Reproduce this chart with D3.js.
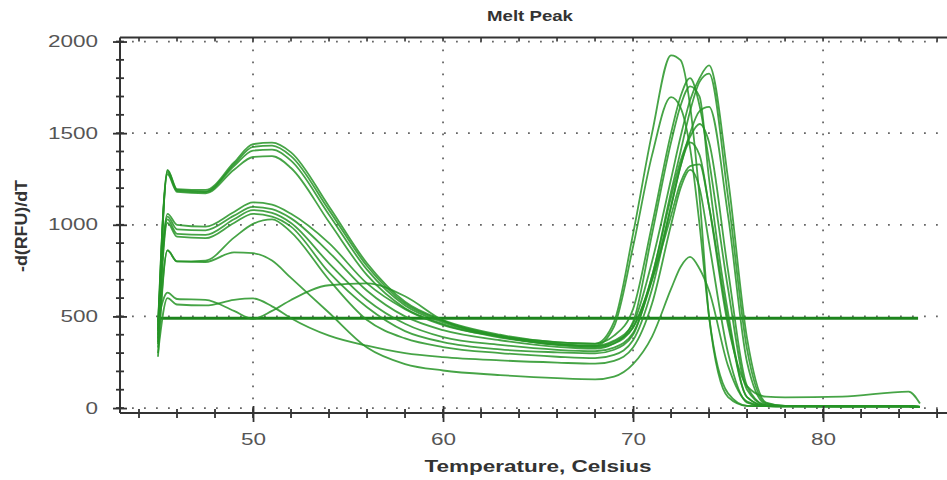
<!DOCTYPE html>
<html>
<head>
<meta charset="utf-8">
<script src="https://cdn.jsdelivr.net/npm/d3@7"></script>
<style>
  body { margin: 0; background: #fff; }
  svg { display: block; font-family: Arial, "Liberation Sans", sans-serif; }
</style>
</head>
<body>
<script>
// Melt peak curves (-d(RFU)/dT against temperature) drawn with D3

const width = 947;
const height = 480;

// temperature grid shared by every well
const temps = [45.0, 45.5, 46.0, 47.5, 49.0, 50.0, 51.0, 52.0, 54.0, 56.0, 58.0, 60.0, 63.0, 66.0, 68.0,
               69.0, 70.0, 71.0, 72.0, 72.5, 73.0, 73.5, 74.0, 75.0, 76.0, 77.0, 78.0, 81.0, 84.5, 85.1];

// one array of values per well
const wellA1 = [420, 1300, 1195, 1190, 1340, 1440, 1448, 1395, 1100, 790, 580, 480, 400, 358, 350,
                470, 950, 1500, 1925, 1898, 1650, 1150, 500, 60, 12, 10, 9, 9, 9, 6];
const wellA2 = [380, 1295, 1190, 1182, 1330, 1425, 1432, 1375, 1080, 775, 570, 475, 395, 352, 340,
                368, 460, 800, 1250, 1480, 1680, 1800, 1870, 1250, 380, 30, 12, 10, 10, 7];
const wellA3 = [350, 1285, 1185, 1178, 1320, 1405, 1410, 1350, 1055, 755, 560, 468, 392, 360, 352,
                395, 540, 1000, 1500, 1700, 1800, 1650, 1350, 650, 100, 15, 10, 9, 9, 6];
const wellA4 = [450, 1275, 1180, 1172, 1300, 1370, 1375, 1310, 1015, 725, 545, 458, 385, 348, 336,
                362, 440, 720, 1180, 1400, 1620, 1780, 1825, 1150, 320, 25, 12, 10, 10, 6];
const wellB1 = [470, 1060, 1000, 990, 1070, 1122, 1110, 1060, 900, 680, 540, 453, 390, 346, 340,
                445, 880, 1380, 1697, 1640, 1420, 1000, 500, 80, 12, 10, 9, 9, 9, 6];
const wellB2 = [430, 1045, 975, 970, 1050, 1098, 1085, 1035, 850, 640, 500, 425, 370, 334, 324,
                352, 470, 950, 1450, 1650, 1755, 1700, 1250, 520, 60, 12, 10, 10, 10, 6];
const wellB3 = [400, 1030, 950, 945, 1030, 1080, 1065, 1010, 790, 590, 460, 387, 345, 318, 310,
                330, 410, 700, 1100, 1320, 1500, 1620, 1643, 1050, 250, 20, 10, 9, 9, 6];
const wellB4 = [360, 1010, 935, 927, 1010, 1060, 1045, 990, 740, 550, 420, 360, 320, 304, 298,
                318, 400, 720, 1150, 1350, 1480, 1550, 1450, 750, 120, 15, 10, 9, 9, 6];
const wellB5 = [330, 860, 800, 805, 930, 1005, 1030, 960, 700, 480, 380, 333, 300, 280, 272,
                290, 370, 650, 1100, 1320, 1450, 1380, 1100, 450, 120, 62, 58, 62, 90, 25];
const wellC1 = [480, 630, 595, 590, 530, 487, 530, 590, 670, 680, 610, 478, 390, 345, 330,
                352, 440, 700, 1050, 1230, 1320, 1330, 1100, 480, 60, 12, 10, 9, 9, 6];
const wellC2 = [300, 600, 565, 560, 590, 598, 555, 490, 395, 340, 300, 278, 260, 248, 242,
                258, 330, 570, 1000, 1200, 1300, 1200, 900, 300, 30, 10, 9, 9, 9, 6];
const wellD1 = [280, 860, 800, 797, 850, 845, 805, 710, 520, 330, 240, 205, 180, 163, 157,
                172, 240, 390, 650, 770, 825, 760, 640, 230, 35, 10, 9, 9, 9, 6];

const wells = [wellA1, wellA2, wellA3, wellA4, wellB1, wellB2, wellB3, wellB4, wellB5, wellC1, wellC2, wellD1];

// flat trace sitting near 500
const flatTemps = [45.1, 85.0];
const flatValues = [490, 490];

const xTicks = [50, 60, 70, 80];
const xMinor = d3.range(44, 87, 2);
const yTicks = [0, 500, 1000, 1500, 2000];
const yMinor = d3.range(0, 2001, 100);

const plot = { left: 120, right: 950, top: 37.5, bottom: 413 };

const x = d3.scaleLinear().domain([43, 86.68]).range([plot.left, plot.right]);
const y = d3.scaleLinear().domain([-27, 2022]).range([plot.bottom, plot.top]);

const svg = d3.select("body").append("svg")
    .attr("width", width)
    .attr("height", height);

svg.append("clipPath").attr("id", "plot-clip")
    .append("rect")
    .attr("x", plot.left).attr("y", plot.top - 2)
    .attr("width", width - plot.left).attr("height", plot.bottom - plot.top + 4);

// dotted grid
const grid = svg.append("g").attr("stroke", "#666").attr("stroke-width", 1.8)
    .attr("stroke-dasharray", "1.8,10.2").attr("stroke-linecap", "butt");
grid.selectAll(".gx").data(xTicks).join("line")
    .attr("x1", d => x(d)).attr("x2", d => x(d))
    .attr("y1", plot.top).attr("y2", plot.bottom);
grid.selectAll(".gy").data(yTicks).join("line")
    .attr("x1", plot.left).attr("x2", width)
    .attr("y1", d => y(d)).attr("y2", d => y(d));

// curves
const line = d3.line()
    .x((d, i) => x(temps[i]))
    .y(d => y(d))
    .curve(d3.curveMonotoneX);

const curves = svg.append("g").attr("clip-path", "url(#plot-clip)");

curves.append("path")
    .datum(flatValues)
    .attr("fill", "none")
    .attr("stroke", "#1c841c")
    .attr("stroke-width", 2.8)
    .attr("d", d3.line().x((d, i) => x(flatTemps[i])).y(d => y(d)));

curves.selectAll(".well").data(wells).join("path")
    .attr("class", "well")
    .attr("fill", "none")
    .attr("stroke", "#269426")
    .attr("stroke-opacity", 0.85)
    .attr("stroke-width", 1.8)
    .attr("stroke-linejoin", "round")
    .attr("d", line);

// axes
const axisColor = "#333";

function styleAxis(g) {
    g.select(".domain").remove();
    g.selectAll("line").attr("stroke", axisColor).attr("stroke-width", 1.8);
    g.selectAll("text")
        .attr("fill", "#555")
        .attr("font-size", 16)
        .attr("textLength", d => String(d).length * 12.5)
        .attr("lengthAdjust", "spacingAndGlyphs");
}

// minor ticks
svg.append("g").selectAll("line").data(yMinor).join("line")
    .attr("x1", plot.left - 4).attr("x2", plot.left + 4)
    .attr("y1", d => y(d)).attr("y2", d => y(d))
    .attr("stroke", axisColor).attr("stroke-width", 1.8);
svg.append("g").selectAll("line").data(xMinor).join("line")
    .attr("x1", d => x(d)).attr("x2", d => x(d))
    .attr("y1", plot.bottom - 4).attr("y2", plot.bottom + 5)
    .attr("stroke", axisColor).attr("stroke-width", 1.8);
svg.append("g").selectAll("line").data(xMinor).join("line")
    .attr("x1", d => x(d)).attr("x2", d => x(d))
    .attr("y1", plot.top).attr("y2", plot.top + 4)
    .attr("stroke", axisColor).attr("stroke-width", 1.6);

const yAxis = svg.append("g")
    .attr("transform", `translate(${plot.left},0)`)
    .call(d3.axisLeft(y).tickValues(yTicks).tickFormat(d3.format("d"))
        .tickSizeInner(7).tickSizeOuter(0).tickPadding(15))
    .call(styleAxis);
yAxis.selectAll(".tick line").attr("x1", 7);

const xAxis = svg.append("g")
    .attr("transform", `translate(0,${plot.bottom})`)
    .call(d3.axisBottom(x).tickValues(xTicks).tickFormat(d3.format("d"))
        .tickSizeInner(9).tickSizeOuter(0).tickPadding(12))
    .call(styleAxis);
xAxis.selectAll(".tick line").attr("y1", -7);

// frame lines
svg.append("line")
    .attr("x1", plot.left).attr("x2", plot.left)
    .attr("y1", plot.top).attr("y2", plot.bottom)
    .attr("stroke", axisColor).attr("stroke-width", 2);
svg.append("line")
    .attr("x1", plot.left).attr("x2", width)
    .attr("y1", plot.bottom).attr("y2", plot.bottom)
    .attr("stroke", axisColor).attr("stroke-width", 2);
svg.append("line")
    .attr("x1", plot.left).attr("x2", width)
    .attr("y1", plot.top).attr("y2", plot.top)
    .attr("stroke", axisColor).attr("stroke-width", 1.8);

// titles
svg.append("text")
    .attr("x", 530).attr("y", 21)
    .attr("text-anchor", "middle")
    .attr("font-size", 14).attr("font-weight", "bold").attr("fill", "#333")
    .attr("textLength", 86).attr("lengthAdjust", "spacingAndGlyphs")
    .text("Melt Peak");

svg.append("text")
    .attr("x", 538).attr("y", 472)
    .attr("text-anchor", "middle")
    .attr("font-size", 16).attr("font-weight", "bold").attr("fill", "#333")
    .attr("textLength", 227).attr("lengthAdjust", "spacingAndGlyphs")
    .text("Temperature, Celsius");

svg.append("text")
    .attr("transform", "translate(27,226) rotate(-90)")
    .attr("text-anchor", "middle")
    .attr("font-size", 16).attr("font-weight", "bold").attr("fill", "#333")
    .attr("textLength", 92).attr("lengthAdjust", "spacingAndGlyphs")
    .text("-d(RFU)/dT");
</script>
</body>
</html>
